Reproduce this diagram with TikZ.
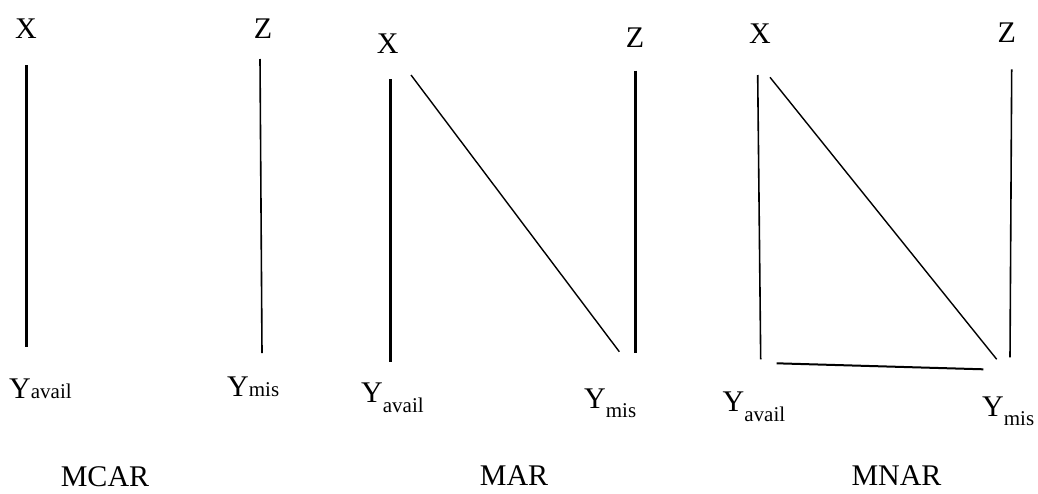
\documentclass[tikz,border=0pt]{standalone}
\usepackage{fontspec}
\setmainfont{Liberation Serif}
\newcommand{\mainsz}{\fontsize{30}{32}\selectfont}
\newcommand{\subsz}{\fontsize{21}{22}\selectfont}
\begin{document}
\begin{tikzpicture}[x=1pt,y=-1pt,
  lbl/.style={inner sep=0pt,anchor=base,font=\mainsz},
  ylbl/.style={inner sep=0pt,anchor=base west,font=\mainsz},
  thickedge/.style={line width=2.5pt},
  thinedge/.style={line width=1.6pt},
  hairedge/.style={line width=1.4pt}]
\useasboundingbox (0,0) rectangle (1038,493);
% ---------- Panel 1: MCAR ----------
\node[lbl] (X1) at (26,38) {X};
\node[lbl] (Z1) at (263,38) {Z};
\node[ylbl] (Ya1) at (9,398) {Y{\subsz avail}};
\node[ylbl] (Ym1) at (227,396) {Y{\subsz mis}};
\node[lbl] (L1) at (105,486) {MCAR};
\coordinate (p1a) at (26.3,65);
\coordinate (p1b) at (26.3,347);
\coordinate (p1c) at (260,59);
\coordinate (p1d) at (262,353);
\draw[thickedge] (p1a) -- (p1b);
\draw[thinedge] (p1c) -- (p1d);
% ---------- Panel 2: MAR ----------
\node[lbl] (X2) at (387.7,53) {X};
\node[lbl] (Z2) at (635,47) {Z};
\node[ylbl] (Ya2) at (361,402) {Y\raisebox{-10pt}{\subsz avail}};
\node[ylbl] (Ym2) at (584,408) {Y\raisebox{-9pt}{\subsz mis}};
\node[lbl] (L2) at (514,485) {MAR};
\coordinate (p2a) at (390.7,79);
\coordinate (p2b) at (390.7,362);
\coordinate (p2c) at (411,75);
\coordinate (p2d) at (619.3,351.7);
\coordinate (p2e) at (635.3,70.7);
\coordinate (p2f) at (635.3,353.3);
\draw[thickedge] (p2a) -- (p2b);
\draw[hairedge] (p2c) -- (p2d);
\draw[thickedge] (p2e) -- (p2f);
% ---------- Panel 3: MNAR ----------
\node[lbl] (X3) at (760,43) {X};
\node[lbl] (Z3) at (1006.7,42) {Z};
\node[ylbl] (Ya3) at (722.5,411.7) {Y\raisebox{-10pt}{\subsz avail}};
\node[ylbl] (Ym3) at (982,416) {Y\raisebox{-9pt}{\subsz mis}};
\node[lbl] (L3) at (896.5,485) {MNAR};
\coordinate (p3a) at (757.7,75);
\coordinate (p3b) at (760.7,359.3);
\coordinate (p3c) at (770,77.3);
\coordinate (p3d) at (996.7,359.3);
\coordinate (p3e) at (1011.7,69.3);
\coordinate (p3f) at (1010,357.3);
\coordinate (p3g) at (776.7,363.3);
\coordinate (p3h) at (983.3,369.3);
\draw[thinedge] (p3a) -- (p3b);
\draw[hairedge] (p3c) -- (p3d);
\draw[thinedge] (p3e) -- (p3f);
\draw[line width=2pt] (p3g) -- (p3h);
\end{tikzpicture}
\end{document}
